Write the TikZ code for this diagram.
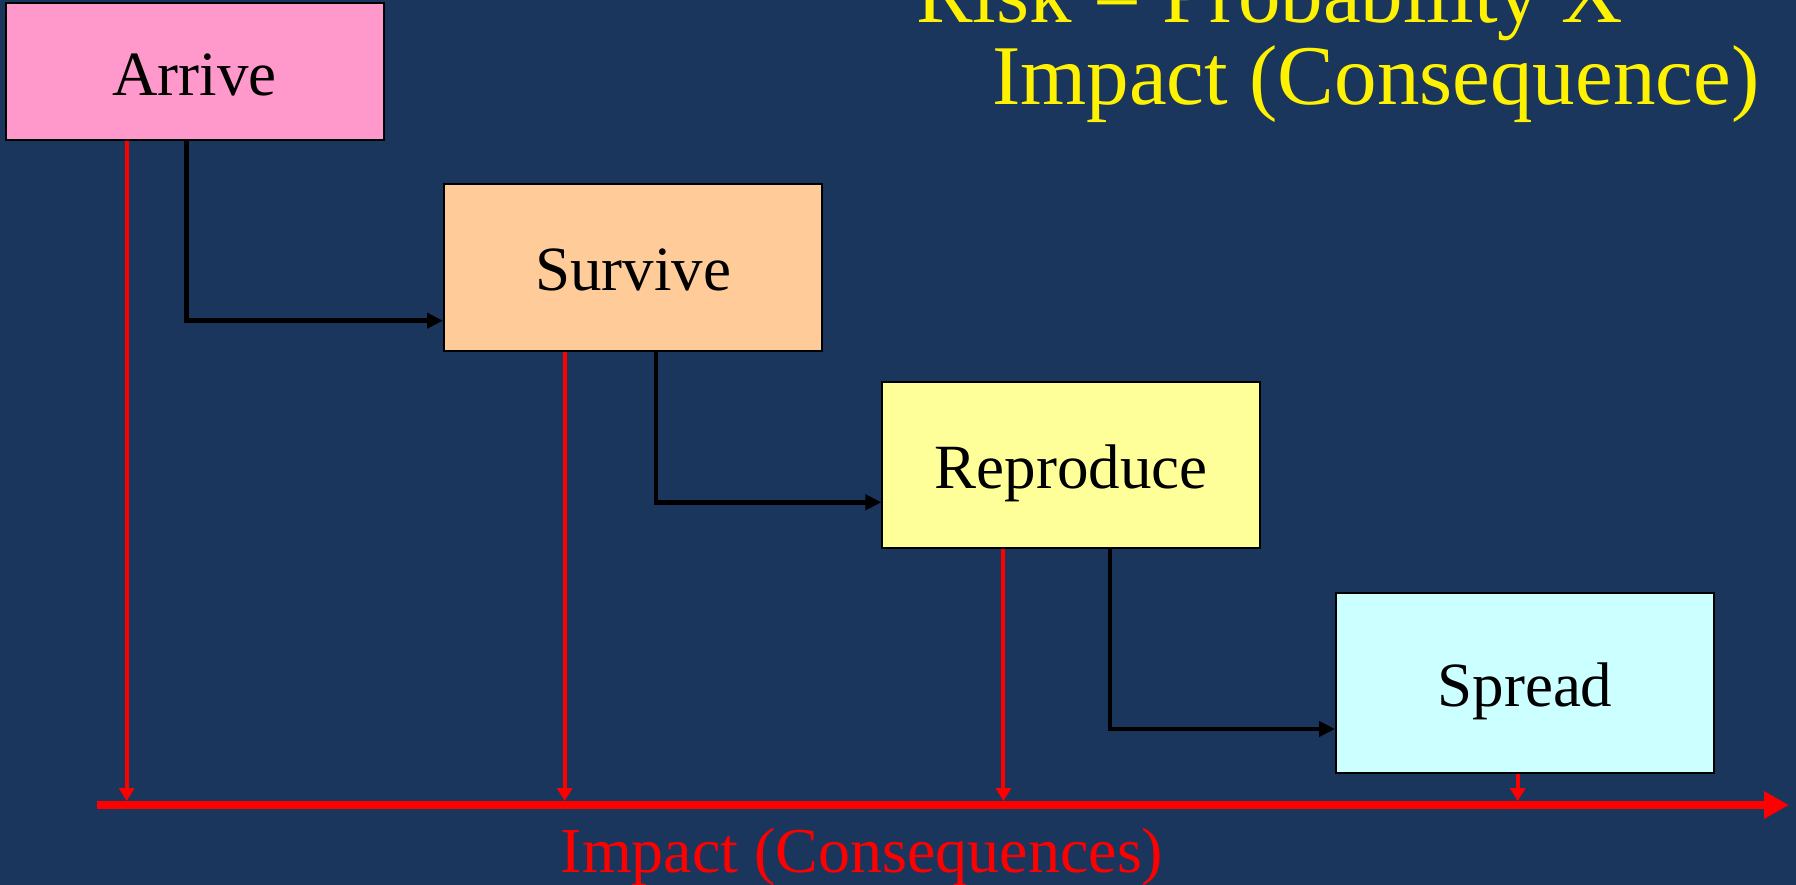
\documentclass[tikz,border=0pt]{standalone}
\usepackage{fontspec}
\setmainfont{Liberation Serif}
\usetikzlibrary{arrows.meta}
\definecolor{bgblue}{HTML}{1A365D}
\definecolor{pinkc}{HTML}{FF99CC}
\definecolor{peachc}{HTML}{FFCC99}
\definecolor{lyellow}{HTML}{FFFF99}
\definecolor{lcyan}{HTML}{CCFFFF}
\tikzset{
  box/.style={draw=black, line width=2pt, minimum width=378pt, inner sep=0pt,
    text height=50pt, text depth=3pt, font=\fontsize{63}{70}\selectfont},
  flow/.style={draw=black, line width=4.8pt, -{Triangle[length=16pt,width=15pt]}},
  impact/.style={draw=red, line width=4pt, -{Triangle[length=13pt,width=15pt]}, shorten >=4pt},
  axis/.style={draw=red, line width=8pt, -{Triangle[length=25pt,width=26pt]}},
  title/.style={text=yellow, inner sep=0pt, font=\fontsize{85}{90}\selectfont}
}
\begin{document}
\begin{tikzpicture}[x=1pt,y=-1pt]
\clip (0,0) rectangle (1796,885);
\fill[bgblue] (0,0) rectangle (1796,885);

\node[box, fill=pinkc, minimum height=136.7pt] (arrive) at (194.6,71.7) {Arrive};
\node[box, fill=peachc, minimum height=166.7pt] (survive) at (633,267.3) {Survive};
\node[box, fill=lyellow, minimum height=166.3pt] (reproduce) at (1071.4,464.8) {Reproduce};
\node[box, fill=lcyan, minimum height=180pt] (spread) at (1525,683.3) {Spread};

\node[title, anchor=base west] (t1) at (916,23) {Risk = Probability X};
\node[title, anchor=base west] (t2) at (992,105) {Impact (Consequence)};

\coordinate (axL) at (96.7,805);
\coordinate (axR) at (1789,805);
\draw[axis] (axL) -- (axR);
\node[text=red, anchor=base, inner sep=0pt, font=\fontsize{64}{70}\selectfont] (lab) at (862,872) {Impact (Consequences)};

\draw[flow] ([xshift=-7.9pt]arrive.south) |- ([yshift=-53.4pt]survive.west);
\draw[flow] ([xshift=23pt]survive.south) |- ([yshift=-37.5pt]reproduce.west);
\draw[flow] ([xshift=38.6pt]reproduce.south) |- ([yshift=-45.7pt]spread.west);

\draw[impact] ([xshift=-67.9pt]arrive.south) -- ([xshift=-67.9pt]arrive.south |- axL);
\draw[impact] ([xshift=-68.3pt]survive.south) -- ([xshift=-68.3pt]survive.south |- axL);
\draw[impact] ([xshift=-68pt]reproduce.south) -- ([xshift=-68pt]reproduce.south |- axL);
\draw[impact] ([xshift=-7.3pt]spread.south) -- ([xshift=-7.3pt]spread.south |- axL);
\end{tikzpicture}
\end{document}
